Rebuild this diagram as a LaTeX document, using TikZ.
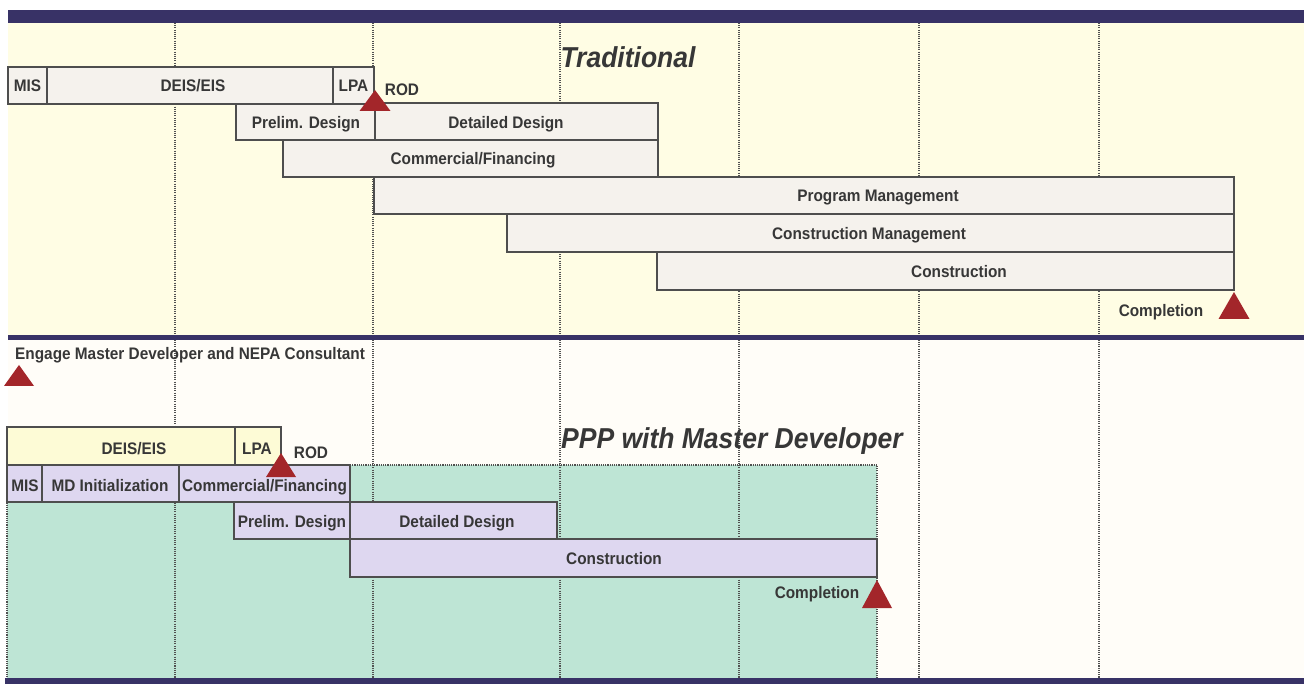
\documentclass[tikz,border=0pt]{standalone}
\usepackage{fontspec}
\setmainfont{Liberation Sans}
\newfontfamily\narrowsans[FakeStretch=0.92]{Liberation Sans}
\definecolor{navy}{RGB}{56,50,102}
\definecolor{cream}{RGB}{255,253,228}
\definecolor{paper}{RGB}{255,253,248}
\definecolor{mint}{RGB}{190,229,213}
\definecolor{barpink}{RGB}{245,242,237}
\definecolor{lav}{RGB}{222,215,240}
\definecolor{envyellow}{RGB}{253,251,214}
\definecolor{msred}{RGB}{163,38,42}
\definecolor{ink}{RGB}{55,55,55}
\definecolor{edge}{RGB}{78,78,78}
\definecolor{gridgray}{RGB}{80,80,80}
% a bar of the schedule: name, left, top, right, bottom, style
\newcommand{\ganttbar}[6]{%
  \pgfmathsetmacro\gbw{#4-#2}%
  \pgfmathsetmacro\gbh{#5-#3}%
  \node[#6,minimum width=\gbw pt,minimum height=\gbh pt] (#1) at ({(#2+#4)/2},{(#3+#5)/2}) {};%
}
% a milestone triangle: name of apex, apex x, apex y, half width, base y
\newcommand{\milestone}[5]{%
  \coordinate (#1) at (#2,#3);%
  \fill[msred] (#1) -- ++(#4,#5-#3) -- ++(-2*#4,0) -- cycle;%
}
\begin{document}
\begin{tikzpicture}[x=1pt,y=-1pt,
  bar/.style={draw=edge,line width=1.1pt,inner sep=0pt,outer sep=0pt},
  topbar/.style={bar,fill=barpink},
  lavbar/.style={bar,fill=lav},
  envbar/.style={bar,fill=envyellow},
  lbl/.style={font=\narrowsans\fontsize{16.7}{17}\selectfont\bfseries,text=ink,inner sep=0pt,anchor=base},
  ttl/.style={font=\narrowsans\fontsize{28.8}{30}\selectfont\bfseries\itshape,text=ink,inner sep=0pt,anchor=base},
  gridline/.style={draw=gridgray,line width=1.1pt,dash pattern=on 1.1pt off 1.1pt}]

\useasboundingbox (0,0) rectangle (1304,684);

% backgrounds of the two panels
\fill[white] (0,0) rectangle (1304,684);
\fill[cream] (8,23) rectangle (1304,335);
\fill[paper] (8,340) rectangle (1304,678);
\fill[mint] (7,465) rectangle (877,678);

% time grid
\foreach \gx in {175,373,560,739,919,1099}
  \draw[gridline] (\gx,23) -- (\gx,678);
\draw[gridline] (7,465) -- (7,678);
\draw[gridline] (350,465) -- (877,465) -- (877,678);

% frame bands
\fill[navy] (8,10) rectangle (1304,23);
\fill[navy] (8,335) rectangle (1304,340);
\fill[navy] (5,678) rectangle (1304,684);

% Traditional schedule
\ganttbar{tmis}{8}{67}{47}{104}{topbar}
\ganttbar{tdeis}{47}{67}{333}{104}{topbar}
\ganttbar{tlpa}{333}{67}{374}{104}{topbar}
\ganttbar{tprelim}{236}{104}{375}{140}{topbar}
\ganttbar{tdetail}{375}{103}{658}{140}{topbar}
\ganttbar{tcomm}{283}{140}{658}{177}{topbar}
\ganttbar{tprog}{374}{177}{1234}{214}{topbar}
\ganttbar{tcm}{507}{214}{1234}{252}{topbar}
\ganttbar{tcon}{657}{252}{1234}{290}{topbar}

% PPP schedule
\ganttbar{pdeis}{7}{427}{235}{465}{envbar}
\ganttbar{plpa}{235}{427}{281}{465}{envbar}
\ganttbar{pmis}{7}{465}{42}{502}{lavbar}
\ganttbar{pmd}{42}{465}{179}{502}{lavbar}
\ganttbar{pcomm}{179}{465}{350}{502}{lavbar}
\ganttbar{pprelim}{234}{502}{350}{539}{lavbar}
\ganttbar{pdetail}{350}{502}{557}{539}{lavbar}
\ganttbar{pcon}{350}{539}{877}{577}{lavbar}

% milestones
\milestone{trod}{375}{90}{15.5}{111}
\milestone{tdone}{1234}{292}{15.5}{319}
\milestone{engage}{19}{365}{15}{386}
\milestone{prod}{281}{453}{15}{477}
\milestone{pdone}{877}{580}{15}{608}

% titles
\node[ttl] (ttrad) at (628,68) {Traditional};
\node[ttl] (tppp) at (732,448) {PPP with Master Developer};

% labels, Traditional
\node[lbl] (lmis) at (27.5,91.8) {MIS};
\node[lbl] (ldeis) at (193,91.8) {DEIS/EIS};
\node[lbl] (llpa) at (353.5,91.8) {LPA};
\node[lbl] (lrod) at (402,95.3) {ROD};
\node[lbl] (lprelim) at (306,128.3) {Prelim. Design};
\node[lbl] (ldetail) at (506,128.3) {Detailed Design};
\node[lbl] (lcomm) at (473,164.8) {Commercial/Financing};
\node[lbl] (lprog) at (878,201.8) {Program Management};
\node[lbl] (lcm) at (869,239.3) {Construction Management};
\node[lbl] (lcon) at (959,277.3) {Construction};
\node[lbl] (ldone) at (1161,316.3) {Completion};

% labels, PPP
\node[lbl,anchor=base west] (lengage) at (15,359.3) {Engage Master Developer and NEPA Consultant};
\node[lbl] (pldeis) at (134,454) {DEIS/EIS};
\node[lbl] (pllpa) at (257,454) {LPA};
\node[lbl] (plrod) at (311,458.3) {ROD};
\node[lbl] (plmis) at (25,491) {MIS};
\node[lbl] (plmd) at (110,491) {MD Initialization};
\node[lbl] (plcomm) at (264.5,491) {Commercial/Financing};
\node[lbl] (plprelim) at (292,527) {Prelim. Design};
\node[lbl] (pldetail) at (457,527) {Detailed Design};
\node[lbl] (plcon) at (614,564.3) {Construction};
\node[lbl] (pldone) at (817,598.3) {Completion};
\end{tikzpicture}
\end{document}
